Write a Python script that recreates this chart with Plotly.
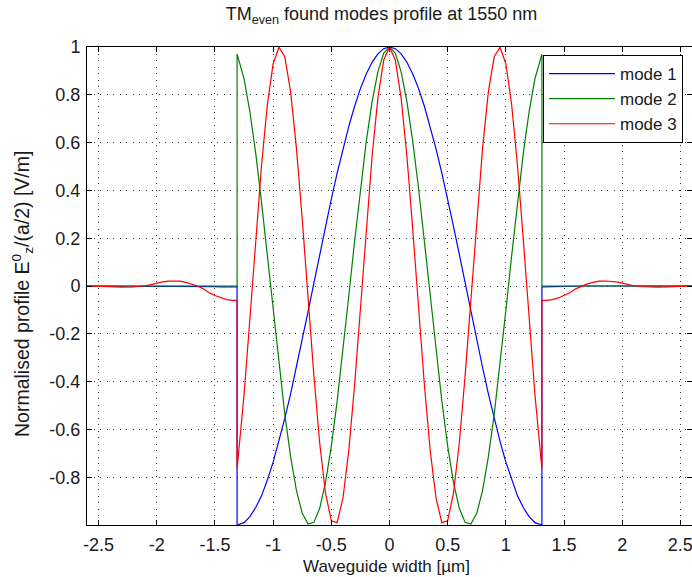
import plotly.graph_objects as go

# Waveguide position samples [um] (core half-width ~1.31 um; duplicated x at the walls = field jump)
x_um = [-2.60, -2.50, -2.40, -2.30, -2.20, -2.15, -2.10, -2.05, -2.00, -1.95, -1.90, -1.85,
        -1.80, -1.75, -1.70, -1.65, -1.60, -1.55, -1.50, -1.45, -1.40, -1.35, -1.31,
        -1.31, -1.25, -1.20, -1.15, -1.10, -1.05, -1.00, -0.95, -0.90, -0.85, -0.80, -0.75,
        -0.70, -0.65, -0.60, -0.55, -0.50, -0.45, -0.40, -0.35, -0.30, -0.25, -0.20, -0.15,
        -0.10, -0.05, 0.00, 0.05, 0.10, 0.15, 0.20, 0.25, 0.30, 0.35, 0.40, 0.45, 0.50,
        0.55, 0.60, 0.65, 0.70, 0.75, 0.80, 0.85, 0.90, 0.95, 1.00, 1.05, 1.10, 1.15,
        1.20, 1.25, 1.31,
        1.31, 1.35, 1.40, 1.45, 1.50, 1.55, 1.60, 1.65, 1.70, 1.75, 1.80, 1.85, 1.90,
        1.95, 2.00, 2.05, 2.10, 2.15, 2.20, 2.30, 2.40, 2.50, 2.60]

mode1 = [0, 0, 0, 0, 0, 0, 0, 0, 0, 0, 0, 0, 0, 0, 0, 0,
         -0.001, -0.002, -0.003, -0.004, -0.004, -0.004, -0.004,
         -1.000, -0.990, -0.965, -0.927, -0.878, -0.812, -0.737, -0.650, -0.554, -0.451,
         -0.341, -0.226, -0.107, 0.012, 0.132, 0.249, 0.364, 0.472, 0.574, 0.668, 0.752,
         0.826, 0.887, 0.936, 0.971, 0.993,
         1.000,
         0.993, 0.971, 0.936, 0.887, 0.826, 0.752, 0.668, 0.574, 0.472, 0.364, 0.249,
         0.132, 0.012, -0.107, -0.226, -0.341, -0.451, -0.554, -0.650, -0.737, -0.812,
         -0.878, -0.927, -0.965, -0.990, -1.000,
         -0.004, -0.004, -0.004, -0.004, -0.003, -0.002, -0.001,
         0, 0, 0, 0, 0, 0, 0, 0, 0, 0, 0, 0, 0, 0, 0, 0]

mode2 = [0, 0, 0, 0, 0, 0, 0, 0, 0, 0, 0, 0, 0, 0, 0, 0, 0, 0, 0, 0, 0, 0, 0,
         0.970, 0.867, 0.730, 0.556, 0.350, 0.127, -0.103, -0.328, -0.536, -0.714,
         -0.855, -0.951, -0.996, -0.989, -0.930, -0.822, -0.670, -0.482, -0.270, -0.042,
         0.187, 0.407, 0.604, 0.770, 0.896, 0.974,
         1.000,
         0.974, 0.896, 0.770, 0.604, 0.407, 0.187, -0.042, -0.270, -0.482, -0.670,
         -0.822, -0.930, -0.989, -0.996, -0.951, -0.855, -0.714, -0.536, -0.328, -0.103,
         0.127, 0.350, 0.556, 0.730, 0.867, 0.970,
         0, 0, 0, 0, 0, 0, 0, 0, 0, 0, 0, 0, 0, 0, 0, 0, 0, 0, 0, 0, 0, 0, 0]

mode3 = [0.000, -0.002, -0.004, -0.005, -0.004, -0.002, 0.001, 0.006, 0.012, 0.017,
         0.020, 0.021, 0.020, 0.015, 0.009, 0.000, -0.012, -0.028, -0.040, -0.050,
         -0.057, -0.060, -0.060,
         -0.765, -0.454, -0.138, 0.194, 0.504, 0.759, 0.930, 0.999, 0.959, 0.813, 0.578,
         0.279, -0.050, -0.374, -0.657, -0.867, -0.982, -0.990, -0.888, -0.689, -0.414,
         -0.094, 0.236, 0.541, 0.786, 0.945,
         1.000,
         0.945, 0.786, 0.541, 0.236, -0.094, -0.414, -0.689, -0.888, -0.990, -0.982,
         -0.867, -0.657, -0.374, -0.050, 0.279, 0.578, 0.813, 0.959, 0.999, 0.930, 0.759,
         0.504, 0.194, -0.138, -0.454, -0.765,
         -0.060, -0.060, -0.057, -0.050, -0.040, -0.028, -0.012, 0.000, 0.009, 0.015,
         0.020, 0.021, 0.020, 0.017, 0.012, 0.006, 0.001, -0.002, -0.004, -0.005,
         -0.004, -0.002, 0.000]

series = [("mode 1", mode1, "#0000ff"), ("mode 2", mode2, "#008000"), ("mode 3", mode3, "#ff0000")]

x_ticks = [-2.5, -2, -1.5, -1, -0.5, 0, 0.5, 1, 1.5, 2, 2.5]
x_ticktext = ["-2.5", "-2", "-1.5", "-1", "-0.5", "0", "0.5", "1", "1.5", "2", "2.5"]
y_ticks = [-0.8, -0.6, -0.4, -0.2, 0, 0.2, 0.4, 0.6, 0.8, 1]
y_ticktext = ["-0.8", "-0.6", "-0.4", "-0.2", "0", "0.2", "0.4", "0.6", "0.8", "1"]

for s in series:
    assert len(s[1]) == len(x_um), (s[0], len(s[1]), len(x_um))

FONT = "Liberation Sans, Arial, sans-serif"
TXT = "#1a1a1a"

fig = go.Figure()
for i, (name, vals, col) in enumerate(series):
    fig.add_trace(go.Scatter(x=x_um, y=vals, mode="lines", name=name,
                             line=dict(color=col, width=1.2),
                             legendgroup=f"g{i}"))

axis_common = dict(
    ticks="inside", ticklen=5, tickcolor="black", tickwidth=1,
    showline=True, linecolor="black", linewidth=1, mirror="ticks",
    showgrid=True, gridcolor="#333333", gridwidth=1, griddash="1px,5.5px",
    zeroline=False, tickfont=dict(family=FONT, size=18, color=TXT),
    ticklabeloverflow="allow",
)

fig.update_layout(
    width=692, height=577, autosize=False,
    margin=dict(l=87, r=0, t=47, b=52),
    paper_bgcolor="white", plot_bgcolor="white",
    showlegend=True,
    title=dict(text="TM<sub>even</sub> found modes profile at 1550 nm",
               x=0.5 - 8 / 605, xref="paper", y=1 - 14 / 577, yref="container",
               yanchor="middle", font=dict(family=FONT, size=18, color=TXT)),
    xaxis=dict(range=[-2.6, 2.6], tickvals=x_ticks, ticktext=x_ticktext,
               ticklabelstandoff=3, **axis_common),
    yaxis=dict(range=[-1, 1], tickvals=y_ticks, ticktext=y_ticktext,
               ticklabelstandoff=2, **axis_common),
    legend=dict(x=(683 - 87) / 605, xanchor="right", y=1 - (55 - 47) / 478, yanchor="top",
                bordercolor="black", borderwidth=1, bgcolor="white",
                font=dict(family=FONT, size=17, color=TXT),
                traceorder="grouped", tracegroupgap=0, itemwidth=66),
    annotations=[
        dict(text="Waveguide width [µm]", xref="paper", yref="paper",
             x=0.5 - 3 / 605, y=-(566 - 525) / 478, xanchor="center", yanchor="middle",
             showarrow=False, font=dict(family=FONT, size=17, color=TXT)),
        dict(text="Normalised profile E<sup>0</sup><sub>z</sub>/(a/2) [V/m]",
             xref="paper", yref="paper", x=(22 - 87) / 605, y=0.5 - 8 / 478,
             xanchor="center", yanchor="middle", textangle=-90,
             showarrow=False, font=dict(family=FONT, size=19.5, color=TXT)),
    ],
)

fig.write_html("out.html")
